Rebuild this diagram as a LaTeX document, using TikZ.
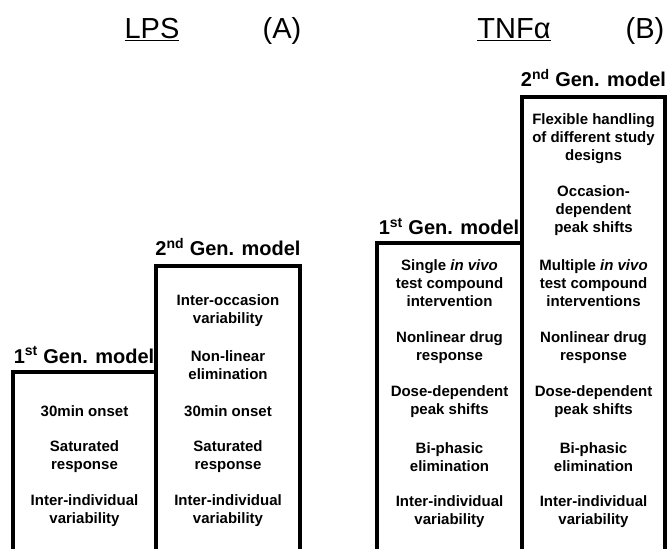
\documentclass[tikz,border=0pt]{standalone}
\usepackage{fontspec}
\setmainfont{Liberation Sans}
\begin{document}
\begin{tikzpicture}[x=1pt,y=1pt,
  box/.style={line width=3.5pt,line join=miter},
  item/.style={align=center,font=\bfseries\fontsize{15}{18}\selectfont},
  gen/.style={anchor=base,font=\bfseries\fontsize{20}{24}\selectfont},
  ttl/.style={anchor=base,font=\fontsize{29}{34}\selectfont}]
\useasboundingbox (0,0) rectangle (668,549);
% LPS boxes
\coordinate (a1bl) at (13,0);
\coordinate (a1tl) at (13,177);
\coordinate (a1tr) at (156,177);
\coordinate (a2bl) at (156,0);
\coordinate (a2tl) at (156,283);
\coordinate (a2tr) at (300,283);
\coordinate (a2br) at (300,0);
\draw[box] (a1bl) -- (a1tl) -- (a1tr);
\draw[box] (a2bl) -- (a2tl) -- (a2tr) -- (a2br);
% TNF boxes
\coordinate (b1bl) at (377,0);
\coordinate (b1tl) at (377,306);
\coordinate (b1tr) at (522,306);
\coordinate (b2bl) at (522,0);
\coordinate (b2tl) at (522,452);
\coordinate (b2tr) at (665,452);
\coordinate (b2br) at (665,0);
\draw[box] (b1bl) -- (b1tl) -- (b1tr);
\draw[box] (b2bl) -- (b2tl) -- (b2tr) -- (b2br);
% titles
\node[ttl] (tlps) at (152,510) {\underline{LPS}};
\node[ttl] (ta) at (282,510) {(A)};
\node[ttl] (ttnf) at (514,510) {\underline{TNFα}};
\node[ttl] (tb) at (645,510) {(B)};
% generation labels
\node[gen] (ga1) at (84,186) {1\textsuperscript{st} Gen. model};
\node[gen] (ga2) at (228,293) {2\textsuperscript{nd} Gen. model};
\node[gen] (gb1) at (449,314) {1\textsuperscript{st} Gen. model};
\node[gen] (gb2) at (593.5,462) {2\textsuperscript{nd} Gen. model};
% LPS 1st
\node[item] (a1i1) at (84.5,138) {30min onset};
\node[item] (a1i2) at (84.5,92) {Saturated\\response};
\node[item] (a1i3) at (84.5,38) {Inter-individual\\variability};
% LPS 2nd
\node[item] (a2i1) at (228,238) {Inter-occasion\\variability};
\node[item] (a2i2) at (228,183.5) {Non-linear\\elimination};
\node[item] (a2i3) at (228,138) {30min onset};
\node[item] (a2i4) at (228,92) {Saturated\\response};
\node[item] (a2i5) at (228,38) {Inter-individual\\variability};
% TNF 1st
\node[item] (b1i1) at (449.5,266) {Single \textit{in vivo}\\test compound\\intervention};
\node[item] (b1i2) at (449.5,201) {Nonlinear drug\\response};
\node[item] (b1i3) at (449.5,147) {Dose-dependent\\peak shifts};
\node[item] (b1i4) at (449.5,92) {Bi-phasic\\elimination};
\node[item] (b1i5) at (449.5,37.5) {Inter-individual\\variability};
% TNF 2nd
\node[item] (b2i1) at (593.5,410) {Flexible handling\\of different study\\designs};
\node[item] (b2i2) at (593.5,338) {Occasion-\\dependent\\peak shifts};
\node[item] (b2i3) at (593.5,266) {Multiple \textit{in vivo}\\test compound\\interventions};
\node[item] (b2i4) at (593.5,201) {Nonlinear drug\\response};
\node[item] (b2i5) at (593.5,147) {Dose-dependent\\peak shifts};
\node[item] (b2i6) at (593.5,92) {Bi-phasic\\elimination};
\node[item] (b2i7) at (593.5,37.5) {Inter-individual\\variability};
\end{tikzpicture}
\end{document}
